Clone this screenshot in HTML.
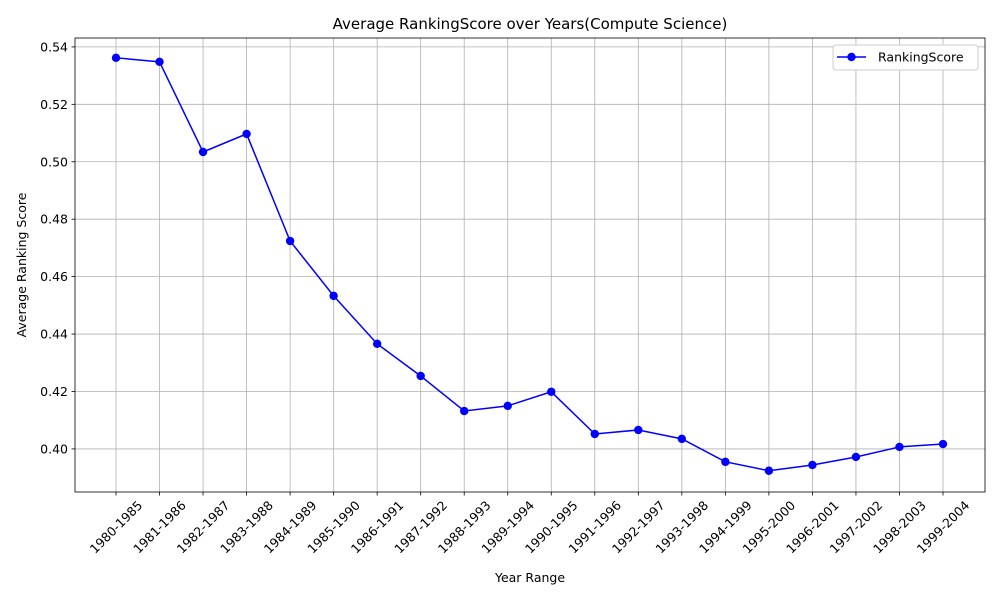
<!DOCTYPE html>
<html><head><meta charset="utf-8"><style>
body{margin:0;background:#fff;font-family:"Liberation Sans","DejaVu Sans",sans-serif;}
svg text{font-family:"DejaVu Sans","Liberation Sans",sans-serif;}
</style></head><body>
<svg id="chart" width="1000" height="600" xmlns="http://www.w3.org/2000/svg"></svg>
<script>
const categories=["1980-1985","1981-1986","1982-1987","1983-1988","1984-1989","1985-1990","1986-1991","1987-1992","1988-1993","1989-1994","1990-1995","1991-1996","1992-1997","1993-1998","1994-1999","1995-2000","1996-2001","1997-2002","1998-2003","1999-2004"];
const scores=[0.5362,0.5348,0.5034,0.5097,0.4724,0.4533,0.4366,0.4254,0.4132,0.4150,0.4199,0.4052,0.4066,0.4035,0.3955,0.3924,0.3944,0.3972,0.4007,0.4017];
const yTicks=[0.40,0.42,0.44,0.46,0.48,0.50,0.52,0.54];

const svg=document.getElementById('chart');
const NS='http://www.w3.org/2000/svg';
const L=75,R=985,T=38,B=492;
const yMin=0.3850,yMax=0.5431;
const xFirst=116,xLast=943;
function x(i){return xFirst+(xLast-xFirst)*i/(categories.length-1);}
function y(v){return B-(v-yMin)/(yMax-yMin)*(B-T);}
function mk(tag,attrs,parent){const e=document.createElementNS(NS,tag);for(const k in attrs)e.setAttribute(k,attrs[k]);(parent||svg).appendChild(e);return e;}

const grid=mk('g',{});


const yAxis=mk('g',{});


yTicks.forEach(t=>{
  const yy=y(t);
  mk('line',{x1:L,x2:R,y1:yy,y2:yy,stroke:'#b0b0b0','stroke-width':0.8},grid);
  mk('line',{x1:L-3.5,x2:L,y1:yy,y2:yy,stroke:'#000','stroke-width':0.8},yAxis);
  const tx=mk('text',{x:L-7,y:yy+4.5,'text-anchor':'end','font-size':12.5,fill:'#000'},yAxis);
  tx.textContent=t.toFixed(2);
  
  
});
const xAxis=mk('g',{});


categories.forEach((c,i)=>{
  const xx=x(i);
  mk('line',{x1:xx,x2:xx,y1:T,y2:B,stroke:'#b0b0b0','stroke-width':0.8},grid);
  mk('line',{x1:xx,x2:xx,y1:B,y2:B+3.5,stroke:'#000','stroke-width':0.8},xAxis);
  const cy=B+35;
  const tx=mk('text',{x:xx,y:cy+4.5,'text-anchor':'middle','font-size':12.5,fill:'#000',transform:`rotate(-45 ${xx} ${cy})`},xAxis);
  tx.textContent=c;
  
  
});
mk('rect',{x:L,y:T,width:R-L,height:B-T,fill:'none',stroke:'#000','stroke-width':0.8});

const line=mk('polyline',{points:scores.map((v,i)=>x(i)+','+y(v)).join(' '),fill:'none',stroke:'#0000ff','stroke-width':1.5});


scores.forEach((v,i)=>{
  const c=mk('circle',{cx:x(i),cy:y(v),r:4.2,fill:'#0000ff'});
  
  
});

const title=mk('text',{x:(L+R)/2,y:29,'text-anchor':'middle','font-size':15,fill:'#000'});
title.textContent='Average RankingScore over Years(Compute Science)';


const xt=mk('text',{x:(L+R)/2,y:582,'text-anchor':'middle','font-size':12.5,fill:'#000'});
xt.textContent='Year Range';


const yt=mk('text',{x:26,y:(T+B)/2,'text-anchor':'middle','font-size':12.5,fill:'#000',transform:`rotate(-90 26 ${(T+B)/2})`});
yt.textContent='Average Ranking Score';



const lg=mk('g',{});


mk('rect',{x:833,y:45,width:145,height:25,rx:3,fill:'#fff',stroke:'#cccccc','stroke-width':1},lg);
mk('line',{x1:837,x2:866,y1:57,y2:57,stroke:'#0000ff','stroke-width':1.5},lg);
mk('circle',{cx:851.5,cy:57,r:4.2,fill:'#0000ff'},lg);
const lt=mk('text',{x:878,y:61.5,'font-size':12.5,fill:'#000'},lg);
lt.textContent='RankingScore';


</script>
</body></html>
